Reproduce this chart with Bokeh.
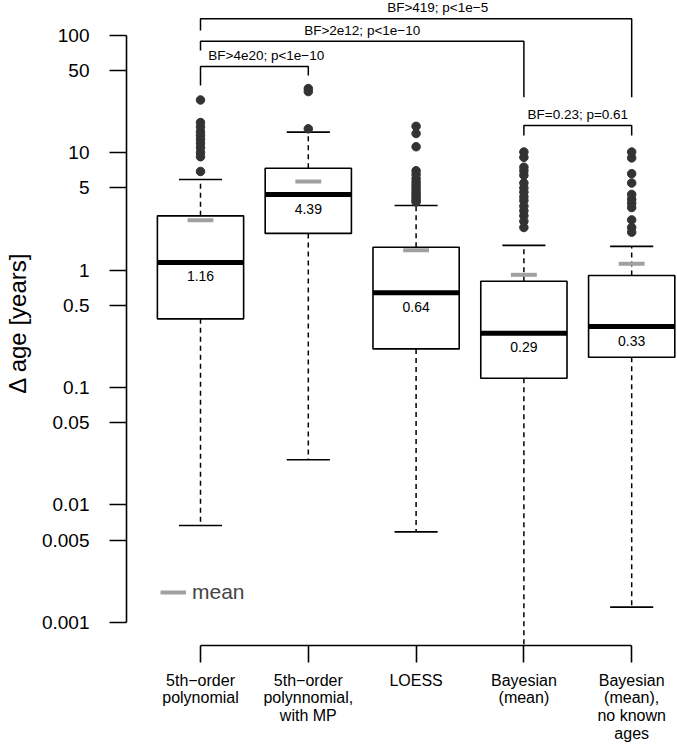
import numpy as np
from bokeh.plotting import figure
from bokeh.models import Range1d, FixedTicker, Legend, LegendItem
from bokeh.core.properties import value
from bokeh.embed import file_html
from bokeh.resources import INLINE

# ---------------- data ----------------
categories = ["5th\u2212order\npolynomial",
              "5th\u2212order\npolynnomial,\nwith MP",
              "LOESS",
              "Bayesian\n(mean)",
              "Bayesian\n(mean),\nno known\nages"]
lower_whisker = [0.0067, 0.0243, 0.0059, 0.0004, 0.00135]
q1 = [0.384, 2.05, 0.213, 0.120, 0.181]
medians = [1.16, 4.39, 0.64, 0.29, 0.33]
q3 = [2.89, 7.35, 1.56, 0.803, 0.898]
upper_whisker = [5.89, 14.9, 3.54, 1.62, 1.59]
means = [2.65, 5.67, 1.47, 0.91, 1.13]

outliers_1 = [28.0, 18.0, 16.5, 15.0, 14.0, 13.0, 12.0, 11.0, 10.0, 9.2, 6.9]
outliers_2 = [35.0, 33.0, 15.9]
outliers_3 = [16.7, 14.5, 11.2, 7.0, 6.5, 6.0, 5.6, 5.3, 5.0, 4.7, 4.5, 4.3, 4.1, 3.9, 3.8]
outliers_4 = [10.1, 9.1, 7.5, 7.0, 6.4, 5.5, 5.0, 4.6, 4.2, 3.9, 3.5, 3.2, 2.9, 2.6, 2.3]
outliers_5 = [10.1, 9.0, 6.6, 5.5, 4.4, 4.0, 3.7, 3.4, 2.67, 2.3, 2.1]

y_ticks = [0.001, 0.005, 0.01, 0.05, 0.1, 0.5, 1, 5, 10, 50, 100]
y_tick_labels = ["0.001", "0.005", "0.01", "0.05", "0.1", "0.5", "1", "5", "10", "50", "100"]

cmp_from = [1, 1, 1, 4]
cmp_to = [5, 4, 2, 5]
cmp_labels = ["BF>419; p<1e\u22125", "BF>2e12; p<1e\u221210", "BF>4e20; p<1e\u221210", "BF=0.23; p=0.61"]
cmp_level = [137.4, 88.5, 53.9, 16.97]
cmp_left_end = [109.2, 73.8, 37.2, 13.95]
cmp_right_end = [29.55, 29.55, 45.2, 13.95]
cmp_label_x = [3.2, 2.5, 1.61, 4.5]

FONT = "Liberation Sans"
n = len(categories)
xs = list(range(1, n + 1))
box_w = 0.8
cap_w = 0.4
mean_w = 0.24

p = figure(width=677, height=745, y_axis_type="log",
           x_range=Range1d(0.3135, 5.425), y_range=Range1d(0.000637, 196.7),
           output_backend="svg", toolbar_location=None,
           min_border_left=126, min_border_right=0, min_border_top=0, min_border_bottom=99)
p.grid.visible = False
p.outline_line_color = None
p.background_fill_color = "white"

# whiskers
p.segment(x0=xs, y0=q3, x1=xs, y1=upper_whisker, line_color="black", line_width=1.5, line_dash="5 4")
p.segment(x0=xs, y0=q1, x1=xs, y1=lower_whisker, line_color="black", line_width=1.5, line_dash="5 4")
# caps
p.segment(x0=[x - cap_w / 2 for x in xs], y0=upper_whisker, x1=[x + cap_w / 2 for x in xs], y1=upper_whisker,
          line_color="black", line_width=1.6)
p.segment(x0=[x - cap_w / 2 for x in xs], y0=lower_whisker, x1=[x + cap_w / 2 for x in xs], y1=lower_whisker,
          line_color="black", line_width=1.6)
# boxes
p.vbar(x=xs, width=box_w, bottom=q1, top=q3, fill_color="white", line_color="black", line_width=1.6)
# medians
p.segment(x0=[x - box_w / 2 for x in xs], y0=medians, x1=[x + box_w / 2 for x in xs], y1=medians,
          line_color="black", line_width=5)
# means
mean_r = p.segment(x0=[x - mean_w / 2 for x in xs], y0=means, x1=[x + mean_w / 2 for x in xs], y1=means,
                   line_color="#a0a0a0", line_width=4)
# outliers
all_out = [outliers_1, outliers_2, outliers_3, outliers_4, outliers_5]
ox, oy = [], []
for i, vals in enumerate(all_out):
    ox += [xs[i]] * len(vals)
    oy += vals
p.scatter(x=ox, y=oy, marker="circle", size=8.5, fill_color="#333333", line_color="#333333")

# median labels
p.text(x=xs, y=medians, text=[f"{m:.2f}" for m in medians], text_align="center", text_baseline="middle",
       y_offset=14, text_font=value(FONT), text_font_size="14px", text_color="black")

# comparison brackets
bx, by = [], []
for a, b, lev, le, re in zip(cmp_from, cmp_to, cmp_level, cmp_left_end, cmp_right_end):
    bx.append([a, a, b, b])
    by.append([le, lev, lev, re])
p.multi_line(xs=bx, ys=by, line_color="black", line_width=1.5)
p.text(x=cmp_label_x, y=cmp_level, text=cmp_labels, text_align="center", text_baseline="alphabetic",
       y_offset=-11, text_font=value(FONT), text_font_size="13.5px", text_color="black")

# legend
legend = Legend(items=[LegendItem(label="mean", renderers=[mean_r])], location=(34, 41),
                glyph_width=26, glyph_height=20, label_standoff=6, padding=0, margin=0,
                border_line_alpha=0, background_fill_alpha=0,
                label_text_font=FONT, label_text_font_size="21px")
p.add_layout(legend)

# y axis
ya = p.yaxis[0]
ya.ticker = FixedTicker(ticks=y_ticks, minor_ticks=[])
ya.major_label_overrides = {t: l for t, l in zip(y_ticks, y_tick_labels)}
ya.bounds = (y_ticks[0], y_ticks[-1])
ya.major_tick_out = 17
ya.major_tick_in = 0
ya.minor_tick_out = 0
ya.minor_tick_in = 0
ya.axis_line_width = 1.6
ya.major_tick_line_width = 1.6
ya.major_label_standoff = 20
ya.major_label_text_font = FONT
ya.major_label_text_font_size = "19px"
ya.major_label_text_color = "black"
ya.axis_label = "\u0394 age [years]"
ya.axis_label_text_font = FONT
ya.axis_label_text_font_size = "24px"
ya.axis_label_text_font_style = "normal"
ya.axis_label_standoff = 8
ya.axis_label_text_color = "black"

# x axis
xa = p.xaxis[0]
xa.ticker = FixedTicker(ticks=xs, minor_ticks=[])
xa.major_label_overrides = {x: c for x, c in zip(xs, categories)}
xa.bounds = (xs[0], xs[-1])
xa.major_tick_out = 17
xa.major_tick_in = 0
xa.minor_tick_out = 0
xa.axis_line_width = 1.6
xa.major_tick_line_width = 1.6
xa.major_label_standoff = 9
xa.major_label_text_font = FONT
xa.major_label_text_font_size = "16px"
xa.major_label_text_line_height = 1.05
xa.major_label_text_color = "black"

open("out.html", "w").write(file_html(p, INLINE))
